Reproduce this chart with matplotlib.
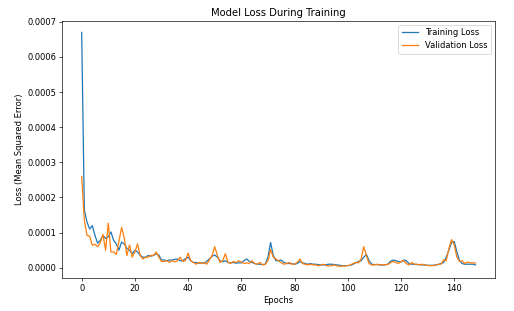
import matplotlib
matplotlib.use('Agg')
import matplotlib.pyplot as plt

# ── Loss values (units of 1e-4) ───────────────────────────────────────────────
SCALE = 1e-4

train_loss = [
    6.70, 1.64, 1.30, 1.10, 1.20, 0.92, 0.70, 0.78, 0.92, 0.83,
    0.88, 1.02, 0.78, 0.68, 0.50, 0.73, 0.68, 0.55, 0.50, 0.40,
    0.50, 0.45, 0.35, 0.30, 0.30, 0.35, 0.33, 0.35, 0.40, 0.36,
    0.22, 0.22, 0.20, 0.22, 0.22, 0.24, 0.25, 0.20, 0.20, 0.26,
    0.30, 0.20, 0.15, 0.15, 0.13, 0.14, 0.13, 0.18, 0.25, 0.33,
    0.36, 0.30, 0.20, 0.17, 0.20, 0.15, 0.14, 0.15, 0.13, 0.14,
    0.14, 0.20, 0.25, 0.18, 0.15, 0.12, 0.10, 0.10, 0.09, 0.10,
    0.30, 0.72, 0.35, 0.20, 0.20, 0.22, 0.15, 0.12, 0.12, 0.12,
    0.10, 0.12, 0.18, 0.14, 0.12, 0.10, 0.12, 0.10, 0.10, 0.09,
    0.08, 0.08, 0.09, 0.10, 0.10, 0.09, 0.08, 0.07, 0.06, 0.06,
    0.06, 0.07, 0.10, 0.14, 0.18, 0.20, 0.30, 0.38, 0.20, 0.10,
    0.09, 0.09, 0.08, 0.08, 0.08, 0.10, 0.18, 0.22, 0.20, 0.18,
    0.16, 0.22, 0.20, 0.12, 0.10, 0.10, 0.09, 0.09, 0.08, 0.08,
    0.07, 0.07, 0.07, 0.08, 0.09, 0.12, 0.15, 0.30, 0.50, 0.72,
    0.75, 0.45, 0.20, 0.12, 0.10, 0.10, 0.10, 0.10, 0.08,
]

val_loss = [
    2.60, 1.35, 0.92, 0.90, 0.64, 0.67, 0.60, 0.72, 0.95, 0.50,
    1.27, 0.45, 0.45, 0.38, 0.75, 1.15, 0.85, 0.35, 0.65, 0.30,
    0.45, 0.68, 0.35, 0.25, 0.30, 0.30, 0.35, 0.35, 0.45, 0.30,
    0.18, 0.18, 0.20, 0.15, 0.20, 0.17, 0.20, 0.30, 0.18, 0.20,
    0.42, 0.20, 0.15, 0.10, 0.15, 0.12, 0.15, 0.10, 0.22, 0.35,
    0.60, 0.35, 0.15, 0.20, 0.40, 0.15, 0.12, 0.18, 0.15, 0.20,
    0.16, 0.12, 0.14, 0.12, 0.20, 0.12, 0.10, 0.15, 0.08, 0.10,
    0.20, 0.52, 0.30, 0.25, 0.20, 0.14, 0.10, 0.12, 0.15, 0.10,
    0.10, 0.15, 0.25, 0.12, 0.10, 0.08, 0.10, 0.08, 0.08, 0.06,
    0.08, 0.10, 0.06, 0.05, 0.06, 0.08, 0.05, 0.04, 0.05, 0.05,
    0.06, 0.08, 0.12, 0.15, 0.14, 0.25, 0.60, 0.35, 0.12, 0.08,
    0.08, 0.10, 0.08, 0.08, 0.09, 0.09, 0.14, 0.18, 0.15, 0.12,
    0.18, 0.20, 0.12, 0.08, 0.15, 0.10, 0.10, 0.08, 0.10, 0.08,
    0.06, 0.06, 0.06, 0.07, 0.10, 0.10, 0.22, 0.20, 0.55, 0.80,
    0.65, 0.30, 0.18, 0.20, 0.12, 0.16, 0.14, 0.14, 0.13,
]

epochs = list(range(len(train_loss)))

# ── Plot ──────────────────────────────────────────────────────────────────────
DPI = 60
fig = plt.figure(figsize=(514 / DPI, 311 / DPI), dpi=DPI)
ax = fig.add_axes([0.1206, 0.106, 0.8428, 0.8274])

ax.plot(epochs, [v * SCALE for v in train_loss], label='Training Loss')
ax.plot(epochs, [v * SCALE for v in val_loss], label='Validation Loss')

ax.set_title('Model Loss During Training')
ax.set_xlabel('Epochs')
ax.set_ylabel('Loss (Mean Squared Error)')
ax.legend()

plt.savefig('out.png', dpi=DPI)
